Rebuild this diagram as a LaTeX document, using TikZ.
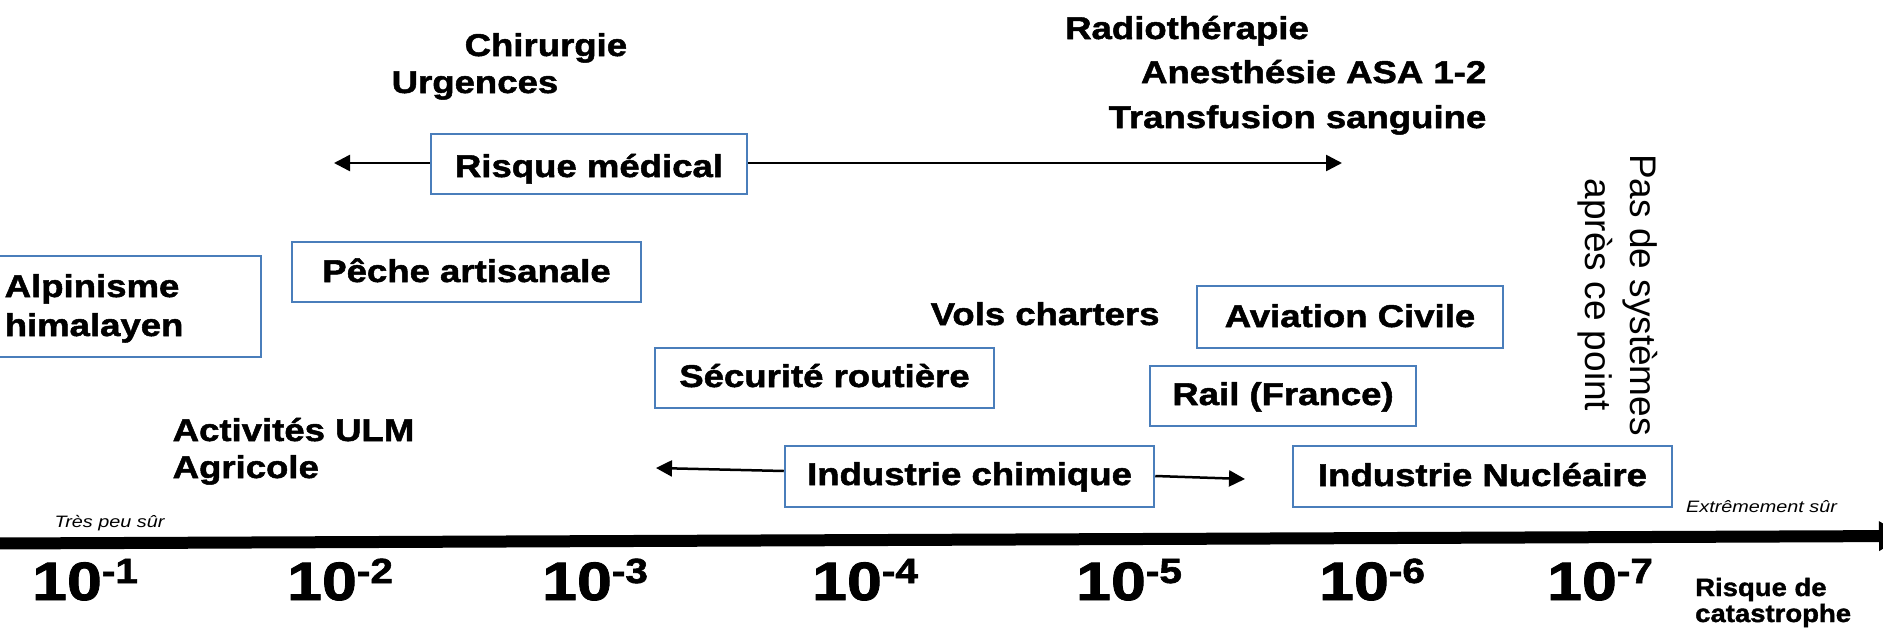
\documentclass[tikz,border=0pt]{standalone}
\usepackage{fontspec}
\setmainfont{Liberation Sans}
\newfontfamily\wb[FakeStretch=1.16, FakeBold=1.6]{Liberation Sans Bold}
\newfontfamily\wc[FakeStretch=1.1, FakeBold=1.4]{Liberation Sans Bold}
\newfontfamily\wi[FakeStretch=1.2]{Liberation Sans Italic}
\newfontfamily\lsr{Liberation Sans}
\usetikzlibrary{arrows.meta}
\definecolor{boxblue}{HTML}{4A7EBB}
\tikzset{
  box/.style={draw=boxblue, line width=2.5pt, inner sep=0pt, text depth=0pt,
    font=\wb\fontsize{31.5}{37}\selectfont},
  lbl/.style={inner sep=0pt, anchor=base west, font=\wb\fontsize{31.5}{37}\selectfont},
  note/.style={inner sep=0pt, anchor=base west, font=\wi\fontsize{16.5}{20}\selectfont},
  pw/.style={inner sep=0pt, anchor=base west, font=\wb\fontsize{54}{60}\selectfont},
  arr/.style={line width=2.5pt, -{Triangle[length=16pt,width=16pt]}},
  axisline/.style={line width=12pt, -{Triangle[length=26pt,width=28pt]}},
}
\newcommand{\pwr}[1]{10\raisebox{17pt}{\fontsize{35}{40}\selectfont -#1}}
\begin{document}
\begin{tikzpicture}[x=1pt,y=-1pt]
\useasboundingbox (0,0) rectangle (1883,635);
\fill[white] (0,0) rectangle (1883,635);

% boxes
\node[box, minimum width=316pt, minimum height=60pt, text height=26pt] (med) at (589,164) {Risque médical\hspace{7pt}};
\node[box, minimum width=349pt, minimum height=60pt, text height=20pt] (peche) at (466.5,272) {Pêche artisanale\hspace{15pt}};
\node[box, minimum width=265pt, minimum height=101pt] (alp) at (128.5,306.5) {};
\node[lbl, font=\wb\fontsize{31.5}{39}\selectfont] (alpt) at (4.5,297) {\begin{tabular}[t]{@{}l@{}}Alpinisme\\himalayen\end{tabular}};
\node[box, minimum width=339pt, minimum height=60pt, text height=18pt] (secu) at (824.5,378) {Sécurité routière\hspace{4pt}};
\node[box, minimum width=306pt, minimum height=62pt, text height=20pt] (avia) at (1350,317) {Aviation Civile\hspace{15pt}};
\node[box, minimum width=266pt, minimum height=60pt, text height=18pt] (rail) at (1283,396) {Rail (France)\hspace{4pt}};
\node[box, minimum width=369pt, minimum height=61pt, text height=17pt] (chim) at (969.5,476.5) {Industrie chimique\hspace{3pt}};
\node[box, minimum width=379pt, minimum height=61pt, text height=19pt] (nucl) at (1482.5,476.5) {Industrie Nucléaire\hspace{2pt}};

% free texts
\node[lbl] (chir) at (464.5,56) {Chirurgie};
\node[lbl] (urg) at (391.5,93) {Urgences};
\node[lbl] (radio) at (1065,39) {Radiothérapie};
\node[lbl, anchor=base east] (anes) at (1486.5,83) {Anesthésie ASA 1-2};
\node[lbl, anchor=base east] (transf) at (1486.5,128) {Transfusion sanguine};
\node[lbl] (vols) at (930.5,325) {Vols charters};
\node[lbl] (ulm) at (172.5,441) {\begin{tabular}[t]{@{}l@{}}Activités ULM\\Agricole\end{tabular}};
\node[inner sep=0pt, anchor=base west, font=\wc\fontsize{25}{26}\selectfont] (cata) at (1695,596) {\begin{tabular}[t]{@{}l@{}}Risque de\\catastrophe\end{tabular}};
\node[note] (tps) at (54.5,527) {Très peu sûr};
\node[note] (exs) at (1686,512) {Extrêmement sûr};
\node[inner sep=0pt, rotate=-90, anchor=base, font=\lsr\fontsize{37}{45}\selectfont] (pas) at (1630,295) {\begin{tabular}[t]{@{}c@{}}Pas de systèmes\\après ce point\end{tabular}};

% arrows
\coordinate (medL) at (334,163);
\coordinate (medR) at (1342,163);
\draw[arr] ([yshift=1pt]med.west) -- (medL);
\draw[arr] ([yshift=1pt]med.east) -- (medR);
\coordinate (chimL) at (656,468);
\coordinate (chimR) at (1245,479);
\draw[arr] ([yshift=5.5pt]chim.west) -- (chimL);
\draw[arr] ([yshift=0.5pt]chim.east) -- (chimR);

% axis
\coordinate (ax0) at (-5,543.5);
\coordinate (ax1) at (1905,536);
\draw[axisline] (ax0) -- (ax1);

% scale labels
\node[pw] (e1) at (32,600) {\pwr{1}};
\node[pw] (e2) at (287,600) {\pwr{2}};
\node[pw] (e3) at (542,600) {\pwr{3}};
\node[pw] (e4) at (812,600) {\pwr{4}};
\node[pw] (e5) at (1076,600) {\pwr{5}};
\node[pw] (e6) at (1319,600) {\pwr{6}};
\node[pw] (e7) at (1547,600) {\pwr{7}};
\end{tikzpicture}
\end{document}
